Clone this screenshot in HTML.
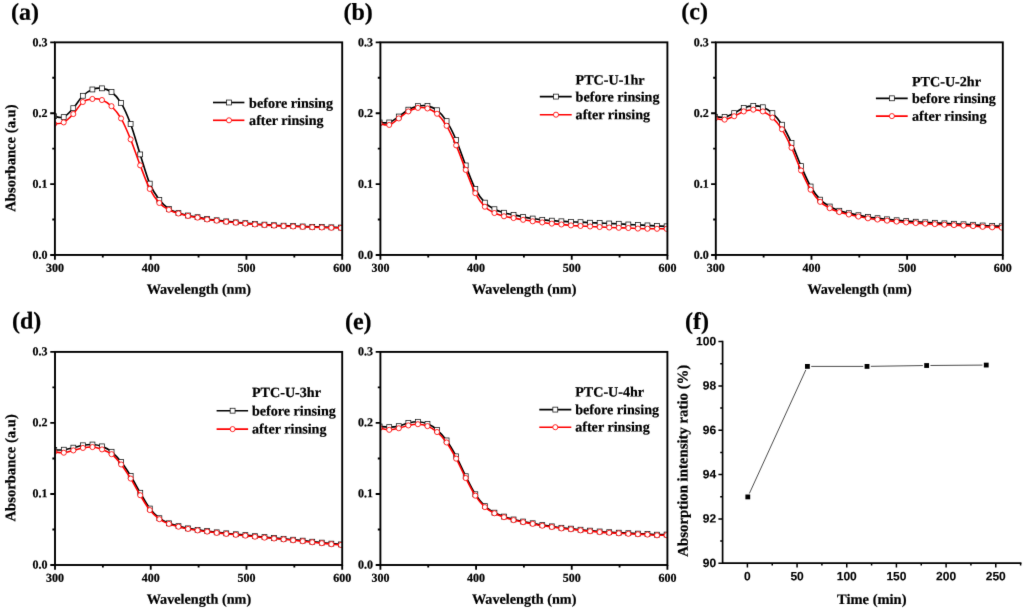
<!DOCTYPE html>
<html><head><meta charset="utf-8"><title>UV-vis absorbance before and after rinsing</title>
<style>html,body{margin:0;padding:0;background:#fff}svg{display:block}text{fill:#000;font-weight:bold;stroke:#000;stroke-width:0.22px}.se{font-family:"Liberation Serif",serif}.sa{font-family:"Liberation Sans",sans-serif;stroke-width:0.12px}</style>
</head><body>
<svg width="1024" height="611" viewBox="0 0 1024 611">
<defs><filter id="soft" filterUnits="userSpaceOnUse" x="0" y="0" width="1024" height="611" color-interpolation-filters="sRGB"><feConvolveMatrix order="3" kernelMatrix="0.0064 0.0672 0.0064 0.0672 0.7056 0.0672 0.0064 0.0672 0.0064" edgeMode="duplicate" preserveAlpha="false"/></filter></defs>
<g filter="url(#soft)">
<rect width="1024" height="611" fill="#fff"/>
<g id="pa">
<clipPath id="clipa"><rect x="54.7" y="42.35" width="287.7" height="212.6"/></clipPath>
<g clip-path="url(#clipa)">
<path d="M54.15 116.18C55.74 116.33 60.52 118.43 63.71 117.1C66.89 115.76 70.08 111.73 73.27 108.17C76.45 104.62 79.64 98.89 82.83 95.78C86.01 92.66 89.2 90.71 92.38 89.47C95.57 88.23 98.76 87.91 101.94 88.34C105.13 88.76 108.32 89.6 111.5 92.02C114.69 94.44 117.87 97.52 121.06 102.86C124.25 108.2 127.43 115.45 130.62 124.04C133.81 132.64 136.99 144.5 140.18 154.43C143.36 164.36 146.55 176.05 149.74 183.62C152.92 191.18 156.11 195.62 159.3 199.84C162.48 204.05 165.67 206.7 168.85 208.91C172.04 211.11 175.23 211.99 178.41 213.08C181.6 214.18 184.79 214.81 187.97 215.49C191.16 216.18 194.34 216.6 197.53 217.19C200.72 217.78 203.9 218.53 207.09 219.03C210.27 219.54 213.46 219.85 216.65 220.24C219.83 220.63 223.02 221.03 226.21 221.37C229.39 221.72 232.58 222 235.76 222.29C238.95 222.59 242.14 222.86 245.32 223.14C248.51 223.43 251.7 223.75 254.88 223.99C258.07 224.24 261.25 224.43 264.44 224.63C267.63 224.83 270.81 225.02 274 225.2C277.19 225.38 280.37 225.55 283.56 225.69C286.74 225.84 289.93 225.92 293.12 226.05C296.3 226.18 299.49 226.34 302.68 226.47C305.86 226.6 309.05 226.73 312.23 226.83C315.42 226.92 318.61 226.96 321.79 227.04C324.98 227.12 328.17 227.24 331.35 227.32C334.54 227.41 339.32 227.5 340.91 227.54" fill="none" stroke="#000" stroke-width="1.65"/>
<rect x="51.7" y="113.73" width="4.9" height="4.9" fill="#fff" stroke="#111" stroke-width="0.75"/><rect x="61.26" y="114.65" width="4.9" height="4.9" fill="#fff" stroke="#111" stroke-width="0.75"/><rect x="70.82" y="105.72" width="4.9" height="4.9" fill="#fff" stroke="#111" stroke-width="0.75"/><rect x="80.38" y="93.33" width="4.9" height="4.9" fill="#fff" stroke="#111" stroke-width="0.75"/><rect x="89.93" y="87.02" width="4.9" height="4.9" fill="#fff" stroke="#111" stroke-width="0.75"/><rect x="99.49" y="85.89" width="4.9" height="4.9" fill="#fff" stroke="#111" stroke-width="0.75"/><rect x="109.05" y="89.57" width="4.9" height="4.9" fill="#fff" stroke="#111" stroke-width="0.75"/><rect x="118.61" y="100.41" width="4.9" height="4.9" fill="#fff" stroke="#111" stroke-width="0.75"/><rect x="128.17" y="121.59" width="4.9" height="4.9" fill="#fff" stroke="#111" stroke-width="0.75"/><rect x="137.73" y="151.98" width="4.9" height="4.9" fill="#fff" stroke="#111" stroke-width="0.75"/><rect x="147.29" y="181.17" width="4.9" height="4.9" fill="#fff" stroke="#111" stroke-width="0.75"/><rect x="156.85" y="197.39" width="4.9" height="4.9" fill="#fff" stroke="#111" stroke-width="0.75"/><rect x="166.4" y="206.46" width="4.9" height="4.9" fill="#fff" stroke="#111" stroke-width="0.75"/><rect x="175.96" y="210.63" width="4.9" height="4.9" fill="#fff" stroke="#111" stroke-width="0.75"/><rect x="185.52" y="213.04" width="4.9" height="4.9" fill="#fff" stroke="#111" stroke-width="0.75"/><rect x="195.08" y="214.74" width="4.9" height="4.9" fill="#fff" stroke="#111" stroke-width="0.75"/><rect x="204.64" y="216.58" width="4.9" height="4.9" fill="#fff" stroke="#111" stroke-width="0.75"/><rect x="214.2" y="217.79" width="4.9" height="4.9" fill="#fff" stroke="#111" stroke-width="0.75"/><rect x="223.76" y="218.92" width="4.9" height="4.9" fill="#fff" stroke="#111" stroke-width="0.75"/><rect x="233.31" y="219.84" width="4.9" height="4.9" fill="#fff" stroke="#111" stroke-width="0.75"/><rect x="242.87" y="220.69" width="4.9" height="4.9" fill="#fff" stroke="#111" stroke-width="0.75"/><rect x="252.43" y="221.54" width="4.9" height="4.9" fill="#fff" stroke="#111" stroke-width="0.75"/><rect x="261.99" y="222.18" width="4.9" height="4.9" fill="#fff" stroke="#111" stroke-width="0.75"/><rect x="271.55" y="222.75" width="4.9" height="4.9" fill="#fff" stroke="#111" stroke-width="0.75"/><rect x="281.11" y="223.24" width="4.9" height="4.9" fill="#fff" stroke="#111" stroke-width="0.75"/><rect x="290.67" y="223.6" width="4.9" height="4.9" fill="#fff" stroke="#111" stroke-width="0.75"/><rect x="300.23" y="224.02" width="4.9" height="4.9" fill="#fff" stroke="#111" stroke-width="0.75"/><rect x="309.78" y="224.38" width="4.9" height="4.9" fill="#fff" stroke="#111" stroke-width="0.75"/><rect x="319.34" y="224.59" width="4.9" height="4.9" fill="#fff" stroke="#111" stroke-width="0.75"/><rect x="328.9" y="224.87" width="4.9" height="4.9" fill="#fff" stroke="#111" stroke-width="0.75"/><rect x="338.46" y="225.09" width="4.9" height="4.9" fill="#fff" stroke="#111" stroke-width="0.75"/>
<path d="M54.15 123.9C55.74 123.65 60.52 124.05 63.71 122.41C66.89 120.77 70.08 117.45 73.27 114.05C76.45 110.65 79.64 104.52 82.83 102.01C86.01 99.5 89.2 99.29 92.38 98.96C95.57 98.63 98.76 98.82 101.94 100.03C105.13 101.23 108.32 103.12 111.5 106.19C114.69 109.26 117.87 112.91 121.06 118.44C124.25 123.98 127.43 131.6 130.62 139.41C133.81 147.23 136.99 157.09 140.18 165.34C143.36 173.59 146.55 182.66 149.74 188.93C152.92 195.2 156.11 199.48 159.3 202.95C162.48 206.43 165.67 208 168.85 209.76C172.04 211.51 175.23 212.48 178.41 213.51C181.6 214.54 184.79 215.23 187.97 215.92C191.16 216.6 194.34 217.03 197.53 217.62C200.72 218.21 203.9 218.95 207.09 219.46C210.27 219.97 213.46 220.27 216.65 220.66C219.83 221.05 223.02 221.46 226.21 221.8C229.39 222.14 232.58 222.42 235.76 222.72C238.95 223.01 242.14 223.29 245.32 223.57C248.51 223.85 251.7 224.17 254.88 224.42C258.07 224.67 261.25 224.86 264.44 225.06C267.63 225.26 270.81 225.45 274 225.62C277.19 225.8 280.37 225.98 283.56 226.12C286.74 226.26 289.93 226.34 293.12 226.47C296.3 226.6 299.49 226.77 302.68 226.9C305.86 227.03 309.05 227.16 312.23 227.25C315.42 227.35 318.61 227.38 321.79 227.46C324.98 227.55 328.17 227.67 331.35 227.75C334.54 227.83 339.32 227.93 340.91 227.96" fill="none" stroke="#f00" stroke-width="1.5499999999999998"/>
<circle cx="54.15" cy="123.9" r="2.55" fill="#fff" stroke="#f00" stroke-width="0.85"/><circle cx="63.71" cy="122.41" r="2.55" fill="#fff" stroke="#f00" stroke-width="0.85"/><circle cx="73.27" cy="114.05" r="2.55" fill="#fff" stroke="#f00" stroke-width="0.85"/><circle cx="82.83" cy="102.01" r="2.55" fill="#fff" stroke="#f00" stroke-width="0.85"/><circle cx="92.38" cy="98.96" r="2.55" fill="#fff" stroke="#f00" stroke-width="0.85"/><circle cx="101.94" cy="100.03" r="2.55" fill="#fff" stroke="#f00" stroke-width="0.85"/><circle cx="111.5" cy="106.19" r="2.55" fill="#fff" stroke="#f00" stroke-width="0.85"/><circle cx="121.06" cy="118.44" r="2.55" fill="#fff" stroke="#f00" stroke-width="0.85"/><circle cx="130.62" cy="139.41" r="2.55" fill="#fff" stroke="#f00" stroke-width="0.85"/><circle cx="140.18" cy="165.34" r="2.55" fill="#fff" stroke="#f00" stroke-width="0.85"/><circle cx="149.74" cy="188.93" r="2.55" fill="#fff" stroke="#f00" stroke-width="0.85"/><circle cx="159.3" cy="202.95" r="2.55" fill="#fff" stroke="#f00" stroke-width="0.85"/><circle cx="168.85" cy="209.76" r="2.55" fill="#fff" stroke="#f00" stroke-width="0.85"/><circle cx="178.41" cy="213.51" r="2.55" fill="#fff" stroke="#f00" stroke-width="0.85"/><circle cx="187.97" cy="215.92" r="2.55" fill="#fff" stroke="#f00" stroke-width="0.85"/><circle cx="197.53" cy="217.62" r="2.55" fill="#fff" stroke="#f00" stroke-width="0.85"/><circle cx="207.09" cy="219.46" r="2.55" fill="#fff" stroke="#f00" stroke-width="0.85"/><circle cx="216.65" cy="220.66" r="2.55" fill="#fff" stroke="#f00" stroke-width="0.85"/><circle cx="226.21" cy="221.8" r="2.55" fill="#fff" stroke="#f00" stroke-width="0.85"/><circle cx="235.76" cy="222.72" r="2.55" fill="#fff" stroke="#f00" stroke-width="0.85"/><circle cx="245.32" cy="223.57" r="2.55" fill="#fff" stroke="#f00" stroke-width="0.85"/><circle cx="254.88" cy="224.42" r="2.55" fill="#fff" stroke="#f00" stroke-width="0.85"/><circle cx="264.44" cy="225.06" r="2.55" fill="#fff" stroke="#f00" stroke-width="0.85"/><circle cx="274" cy="225.62" r="2.55" fill="#fff" stroke="#f00" stroke-width="0.85"/><circle cx="283.56" cy="226.12" r="2.55" fill="#fff" stroke="#f00" stroke-width="0.85"/><circle cx="293.12" cy="226.47" r="2.55" fill="#fff" stroke="#f00" stroke-width="0.85"/><circle cx="302.68" cy="226.9" r="2.55" fill="#fff" stroke="#f00" stroke-width="0.85"/><circle cx="312.23" cy="227.25" r="2.55" fill="#fff" stroke="#f00" stroke-width="0.85"/><circle cx="321.79" cy="227.46" r="2.55" fill="#fff" stroke="#f00" stroke-width="0.85"/><circle cx="331.35" cy="227.75" r="2.55" fill="#fff" stroke="#f00" stroke-width="0.85"/><circle cx="340.91" cy="227.96" r="2.55" fill="#fff" stroke="#f00" stroke-width="0.85"/>
</g>
<rect x="54.9" y="42.35" width="287.3" height="212.6" fill="none" stroke="#000" stroke-width="1.9"/>
<path d="M54.9 254.95 v4.7M102.78 254.95 v2.6M150.67 254.95 v4.7M198.55 254.95 v2.6M246.43 254.95 v4.7M294.32 254.95 v2.6M342.2 254.95 v4.7M54.9 254.95 h-4.7M54.9 219.52 h-2.6M54.9 184.08 h-4.7M54.9 148.65 h-2.6M54.9 113.22 h-4.7M54.9 77.78 h-2.6M54.9 42.35 h-4.7" stroke="#000" stroke-width="1.85" fill="none"/>
<text x="54.9" y="271.75" font-size="12.0" text-anchor="middle" class="se" transform="rotate(0.03 54.9 271.75)">300</text>
<text x="150.67" y="271.75" font-size="12.0" text-anchor="middle" class="se" transform="rotate(0.03 150.67 271.75)">400</text>
<text x="246.43" y="271.75" font-size="12.0" text-anchor="middle" class="se" transform="rotate(0.03 246.43 271.75)">500</text>
<text x="342.2" y="271.75" font-size="12.0" text-anchor="middle" class="se" transform="rotate(0.03 342.2 271.75)">600</text>
<text x="47.5" y="258.75" font-size="12.0" text-anchor="end" class="se" transform="rotate(0.03 47.5 258.75)">0.0</text>
<text x="47.5" y="187.88" font-size="12.0" text-anchor="end" class="se" transform="rotate(0.03 47.5 187.88)">0.1</text>
<text x="47.5" y="117.02" font-size="12.0" text-anchor="end" class="se" transform="rotate(0.03 47.5 117.02)">0.2</text>
<text x="47.5" y="46.15" font-size="12.0" text-anchor="end" class="se" transform="rotate(0.03 47.5 46.15)">0.3</text>
<text x="198.85" y="293.75" font-size="14.2" text-anchor="middle" class="se" transform="rotate(0.03 198.85 293.75)">Wavelength (nm)</text>
<text transform="translate(15.2 158.05) rotate(-90.03)" font-size="14.649999999999999" text-anchor="middle" class="se">Absorbance (a.u)</text>
<text x="11" y="19.8" font-size="24" text-anchor="start" class="se" transform="rotate(0.03 11 19.8)">(a)</text>
<path d="M213 102.5H244.4" stroke="#000" stroke-width="1.65"/>
<rect x="226.55" y="100.05" width="4.9" height="4.9" fill="#fff" stroke="#111" stroke-width="0.75"/>
<text x="249.1" y="107.8" font-size="14.1" text-anchor="start" class="se" transform="rotate(0.03 249.1 107.8)">before rinsing</text>
<path d="M213 120.3H244.4" stroke="#f00" stroke-width="1.65"/>
<circle cx="229" cy="120.3" r="2.55" fill="#fff" stroke="#f00" stroke-width="0.85"/>
<text x="249.1" y="124.95" font-size="14.1" text-anchor="start" class="se" transform="rotate(0.03 249.1 124.95)">after rinsing</text>
</g>
<g id="pb">
<clipPath id="clipb"><rect x="380.2" y="42.35" width="287.4" height="212.6"/></clipPath>
<g clip-path="url(#clipb)">
<path d="M379.65 122.46C381.24 122.46 386.03 123.45 389.21 122.46C392.4 121.47 395.59 118.65 398.78 116.52C401.97 114.39 405.16 111.39 408.34 109.66C411.53 107.93 414.72 106.76 417.91 106.13C421.1 105.49 424.29 105.16 427.47 105.84C430.66 106.53 433.85 107.68 437.04 110.23C440.23 112.77 443.41 116.15 446.6 121.11C449.79 126.08 452.98 132.6 456.17 139.99C459.36 147.38 462.54 157.3 465.73 165.44C468.92 173.59 472.11 182.65 475.3 188.85C478.48 195.04 481.67 199.24 484.86 202.63C488.05 206.03 491.24 207.52 494.43 209.21C497.61 210.89 500.8 211.79 503.99 212.74C507.18 213.7 510.37 214.24 513.56 214.93C516.74 215.63 519.93 216.31 523.12 216.91C526.31 217.51 529.5 218.06 532.68 218.54C535.87 219.02 539.06 219.46 542.25 219.81C545.44 220.17 548.63 220.41 551.81 220.66C555 220.91 558.19 221.1 561.38 221.3C564.57 221.5 567.76 221.72 570.94 221.86C574.13 222 577.32 222 580.51 222.15C583.7 222.29 586.88 222.56 590.07 222.71C593.26 222.86 596.45 222.93 599.64 223.06C602.83 223.19 606.01 223.37 609.2 223.49C612.39 223.61 615.58 223.61 618.77 223.77C621.95 223.94 625.14 224.29 628.33 224.48C631.52 224.67 634.71 224.75 637.9 224.9C641.08 225.06 644.27 225.23 647.46 225.4C650.65 225.56 653.84 225.74 657.03 225.89C660.21 226.05 665 226.25 666.59 226.32" fill="none" stroke="#000" stroke-width="1.65"/>
<rect x="377.2" y="120.01" width="4.9" height="4.9" fill="#fff" stroke="#111" stroke-width="0.75"/><rect x="386.76" y="120.01" width="4.9" height="4.9" fill="#fff" stroke="#111" stroke-width="0.75"/><rect x="396.33" y="114.07" width="4.9" height="4.9" fill="#fff" stroke="#111" stroke-width="0.75"/><rect x="405.89" y="107.21" width="4.9" height="4.9" fill="#fff" stroke="#111" stroke-width="0.75"/><rect x="415.46" y="103.68" width="4.9" height="4.9" fill="#fff" stroke="#111" stroke-width="0.75"/><rect x="425.02" y="103.39" width="4.9" height="4.9" fill="#fff" stroke="#111" stroke-width="0.75"/><rect x="434.59" y="107.78" width="4.9" height="4.9" fill="#fff" stroke="#111" stroke-width="0.75"/><rect x="444.15" y="118.66" width="4.9" height="4.9" fill="#fff" stroke="#111" stroke-width="0.75"/><rect x="453.72" y="137.54" width="4.9" height="4.9" fill="#fff" stroke="#111" stroke-width="0.75"/><rect x="463.28" y="162.99" width="4.9" height="4.9" fill="#fff" stroke="#111" stroke-width="0.75"/><rect x="472.85" y="186.4" width="4.9" height="4.9" fill="#fff" stroke="#111" stroke-width="0.75"/><rect x="482.41" y="200.18" width="4.9" height="4.9" fill="#fff" stroke="#111" stroke-width="0.75"/><rect x="491.98" y="206.76" width="4.9" height="4.9" fill="#fff" stroke="#111" stroke-width="0.75"/><rect x="501.54" y="210.29" width="4.9" height="4.9" fill="#fff" stroke="#111" stroke-width="0.75"/><rect x="511.11" y="212.48" width="4.9" height="4.9" fill="#fff" stroke="#111" stroke-width="0.75"/><rect x="520.67" y="214.46" width="4.9" height="4.9" fill="#fff" stroke="#111" stroke-width="0.75"/><rect x="530.23" y="216.09" width="4.9" height="4.9" fill="#fff" stroke="#111" stroke-width="0.75"/><rect x="539.8" y="217.36" width="4.9" height="4.9" fill="#fff" stroke="#111" stroke-width="0.75"/><rect x="549.36" y="218.21" width="4.9" height="4.9" fill="#fff" stroke="#111" stroke-width="0.75"/><rect x="558.93" y="218.85" width="4.9" height="4.9" fill="#fff" stroke="#111" stroke-width="0.75"/><rect x="568.49" y="219.41" width="4.9" height="4.9" fill="#fff" stroke="#111" stroke-width="0.75"/><rect x="578.06" y="219.7" width="4.9" height="4.9" fill="#fff" stroke="#111" stroke-width="0.75"/><rect x="587.62" y="220.26" width="4.9" height="4.9" fill="#fff" stroke="#111" stroke-width="0.75"/><rect x="597.19" y="220.61" width="4.9" height="4.9" fill="#fff" stroke="#111" stroke-width="0.75"/><rect x="606.75" y="221.04" width="4.9" height="4.9" fill="#fff" stroke="#111" stroke-width="0.75"/><rect x="616.32" y="221.32" width="4.9" height="4.9" fill="#fff" stroke="#111" stroke-width="0.75"/><rect x="625.88" y="222.03" width="4.9" height="4.9" fill="#fff" stroke="#111" stroke-width="0.75"/><rect x="635.45" y="222.45" width="4.9" height="4.9" fill="#fff" stroke="#111" stroke-width="0.75"/><rect x="645.01" y="222.95" width="4.9" height="4.9" fill="#fff" stroke="#111" stroke-width="0.75"/><rect x="654.58" y="223.44" width="4.9" height="4.9" fill="#fff" stroke="#111" stroke-width="0.75"/><rect x="664.14" y="223.87" width="4.9" height="4.9" fill="#fff" stroke="#111" stroke-width="0.75"/>
<path d="M379.65 123.45C381.24 123.7 386.03 125.77 389.21 124.93C392.4 124.1 395.59 120.68 398.78 118.43C401.97 116.18 405.16 113.18 408.34 111.43C411.53 109.67 414.72 108.39 417.91 107.89C421.1 107.4 424.29 107.48 427.47 108.46C430.66 109.44 433.85 110.87 437.04 113.76C440.23 116.65 443.41 120.51 446.6 125.78C449.79 131.05 452.98 138.01 456.17 145.36C459.36 152.72 462.54 161.93 465.73 169.9C468.92 177.86 472.11 187.02 475.3 193.16C478.48 199.3 481.67 203.42 484.86 206.73C488.05 210.04 491.24 211.43 494.43 213.02C497.61 214.62 500.8 215.44 503.99 216.28C507.18 217.11 510.37 217.46 513.56 218.04C516.74 218.63 519.93 219.27 523.12 219.81C526.31 220.35 529.5 220.86 532.68 221.3C535.87 221.73 539.06 222.04 542.25 222.43C545.44 222.82 548.63 223.29 551.81 223.63C555 223.97 558.19 224.18 561.38 224.48C564.57 224.77 567.76 225.15 570.94 225.4C574.13 225.64 577.32 225.79 580.51 225.96C583.7 226.14 586.88 226.28 590.07 226.46C593.26 226.63 596.45 226.85 599.64 227.02C602.83 227.2 606.01 227.39 609.2 227.52C612.39 227.65 615.58 227.72 618.77 227.8C621.95 227.88 625.14 227.88 628.33 228.01C631.52 228.14 634.71 228.46 637.9 228.58C641.08 228.7 644.27 228.68 647.46 228.72C650.65 228.76 653.84 228.77 657.03 228.79C660.21 228.81 665 228.85 666.59 228.86" fill="none" stroke="#f00" stroke-width="1.5499999999999998"/>
<circle cx="379.65" cy="123.45" r="2.55" fill="#fff" stroke="#f00" stroke-width="0.85"/><circle cx="389.21" cy="124.93" r="2.55" fill="#fff" stroke="#f00" stroke-width="0.85"/><circle cx="398.78" cy="118.43" r="2.55" fill="#fff" stroke="#f00" stroke-width="0.85"/><circle cx="408.34" cy="111.43" r="2.55" fill="#fff" stroke="#f00" stroke-width="0.85"/><circle cx="417.91" cy="107.89" r="2.55" fill="#fff" stroke="#f00" stroke-width="0.85"/><circle cx="427.47" cy="108.46" r="2.55" fill="#fff" stroke="#f00" stroke-width="0.85"/><circle cx="437.04" cy="113.76" r="2.55" fill="#fff" stroke="#f00" stroke-width="0.85"/><circle cx="446.6" cy="125.78" r="2.55" fill="#fff" stroke="#f00" stroke-width="0.85"/><circle cx="456.17" cy="145.36" r="2.55" fill="#fff" stroke="#f00" stroke-width="0.85"/><circle cx="465.73" cy="169.9" r="2.55" fill="#fff" stroke="#f00" stroke-width="0.85"/><circle cx="475.3" cy="193.16" r="2.55" fill="#fff" stroke="#f00" stroke-width="0.85"/><circle cx="484.86" cy="206.73" r="2.55" fill="#fff" stroke="#f00" stroke-width="0.85"/><circle cx="494.43" cy="213.02" r="2.55" fill="#fff" stroke="#f00" stroke-width="0.85"/><circle cx="503.99" cy="216.28" r="2.55" fill="#fff" stroke="#f00" stroke-width="0.85"/><circle cx="513.56" cy="218.04" r="2.55" fill="#fff" stroke="#f00" stroke-width="0.85"/><circle cx="523.12" cy="219.81" r="2.55" fill="#fff" stroke="#f00" stroke-width="0.85"/><circle cx="532.68" cy="221.3" r="2.55" fill="#fff" stroke="#f00" stroke-width="0.85"/><circle cx="542.25" cy="222.43" r="2.55" fill="#fff" stroke="#f00" stroke-width="0.85"/><circle cx="551.81" cy="223.63" r="2.55" fill="#fff" stroke="#f00" stroke-width="0.85"/><circle cx="561.38" cy="224.48" r="2.55" fill="#fff" stroke="#f00" stroke-width="0.85"/><circle cx="570.94" cy="225.4" r="2.55" fill="#fff" stroke="#f00" stroke-width="0.85"/><circle cx="580.51" cy="225.96" r="2.55" fill="#fff" stroke="#f00" stroke-width="0.85"/><circle cx="590.07" cy="226.46" r="2.55" fill="#fff" stroke="#f00" stroke-width="0.85"/><circle cx="599.64" cy="227.02" r="2.55" fill="#fff" stroke="#f00" stroke-width="0.85"/><circle cx="609.2" cy="227.52" r="2.55" fill="#fff" stroke="#f00" stroke-width="0.85"/><circle cx="618.77" cy="227.8" r="2.55" fill="#fff" stroke="#f00" stroke-width="0.85"/><circle cx="628.33" cy="228.01" r="2.55" fill="#fff" stroke="#f00" stroke-width="0.85"/><circle cx="637.9" cy="228.58" r="2.55" fill="#fff" stroke="#f00" stroke-width="0.85"/><circle cx="647.46" cy="228.72" r="2.55" fill="#fff" stroke="#f00" stroke-width="0.85"/><circle cx="657.03" cy="228.79" r="2.55" fill="#fff" stroke="#f00" stroke-width="0.85"/><circle cx="666.59" cy="228.86" r="2.55" fill="#fff" stroke="#f00" stroke-width="0.85"/>
</g>
<rect x="380.4" y="42.35" width="287" height="212.6" fill="none" stroke="#000" stroke-width="1.9"/>
<path d="M380.4 254.95 v4.7M428.23 254.95 v2.6M476.07 254.95 v4.7M523.9 254.95 v2.6M571.73 254.95 v4.7M619.57 254.95 v2.6M667.4 254.95 v4.7M380.4 254.95 h-4.7M380.4 219.52 h-2.6M380.4 184.08 h-4.7M380.4 148.65 h-2.6M380.4 113.22 h-4.7M380.4 77.78 h-2.6M380.4 42.35 h-4.7" stroke="#000" stroke-width="1.85" fill="none"/>
<text x="380.4" y="271.75" font-size="12.0" text-anchor="middle" class="se" transform="rotate(0.03 380.4 271.75)">300</text>
<text x="476.07" y="271.75" font-size="12.0" text-anchor="middle" class="se" transform="rotate(0.03 476.07 271.75)">400</text>
<text x="571.73" y="271.75" font-size="12.0" text-anchor="middle" class="se" transform="rotate(0.03 571.73 271.75)">500</text>
<text x="667.4" y="271.75" font-size="12.0" text-anchor="middle" class="se" transform="rotate(0.03 667.4 271.75)">600</text>
<text x="373" y="258.75" font-size="12.0" text-anchor="end" class="se" transform="rotate(0.03 373 258.75)">0.0</text>
<text x="373" y="187.88" font-size="12.0" text-anchor="end" class="se" transform="rotate(0.03 373 187.88)">0.1</text>
<text x="373" y="117.02" font-size="12.0" text-anchor="end" class="se" transform="rotate(0.03 373 117.02)">0.2</text>
<text x="373" y="46.15" font-size="12.0" text-anchor="end" class="se" transform="rotate(0.03 373 46.15)">0.3</text>
<text x="524.2" y="293.75" font-size="14.2" text-anchor="middle" class="se" transform="rotate(0.03 524.2 293.75)">Wavelength (nm)</text>
<text x="343.5" y="19.8" font-size="24" text-anchor="start" class="se" transform="rotate(0.03 343.5 19.8)">(b)</text>
<text x="575.6" y="84.6" font-size="14.1" text-anchor="start" class="se" transform="rotate(0.03 575.6 84.6)">PTC-U-1hr</text>
<path d="M539.8 96.6H571.7" stroke="#000" stroke-width="1.65"/>
<rect x="553.55" y="94.15" width="4.9" height="4.9" fill="#fff" stroke="#111" stroke-width="0.75"/>
<text x="575.6" y="101.5" font-size="14.1" text-anchor="start" class="se" transform="rotate(0.03 575.6 101.5)">before rinsing</text>
<path d="M539.8 114.7H571.7" stroke="#f00" stroke-width="1.65"/>
<circle cx="556" cy="114.7" r="2.55" fill="#fff" stroke="#f00" stroke-width="0.85"/>
<text x="575.6" y="119.3" font-size="14.1" text-anchor="start" class="se" transform="rotate(0.03 575.6 119.3)">after rinsing</text>
</g>
<g id="pc">
<clipPath id="clipc"><rect x="715.6" y="42.35" width="287.4" height="212.6"/></clipPath>
<g clip-path="url(#clipc)">
<path d="M715.05 116.73C716.64 116.78 721.42 117.61 724.61 117.01C727.79 116.41 730.98 114.65 734.16 113.13C737.35 111.61 740.53 109.11 743.72 107.89C746.91 106.68 750.09 105.95 753.28 105.84C756.46 105.74 759.65 106.04 762.83 107.26C766.02 108.47 769.2 110.22 772.39 113.13C775.58 116.04 778.76 119.76 781.95 124.72C785.13 129.68 788.32 136 791.5 142.89C794.69 149.78 797.87 158.81 801.06 166.08C804.25 173.35 807.43 180.92 810.62 186.51C813.8 192.11 816.99 196.33 820.17 199.66C823.36 203 826.54 204.67 829.73 206.52C832.92 208.37 836.1 209.65 839.29 210.76C842.47 211.87 845.66 212.42 848.84 213.17C852.03 213.91 855.21 214.58 858.4 215.22C861.59 215.85 864.77 216.49 867.96 216.98C871.14 217.48 874.33 217.8 877.51 218.19C880.7 218.57 883.88 218.98 887.07 219.32C890.26 219.66 893.44 219.94 896.63 220.24C899.81 220.53 903 220.84 906.18 221.08C909.37 221.33 912.55 221.52 915.74 221.72C918.93 221.92 922.11 222.11 925.3 222.29C928.48 222.46 931.67 222.6 934.85 222.78C938.04 222.96 941.22 223.18 944.41 223.35C947.6 223.51 950.78 223.62 953.97 223.77C957.15 223.92 960.34 224.1 963.52 224.27C966.71 224.43 969.89 224.56 973.08 224.76C976.27 224.96 979.45 225.27 982.64 225.47C985.82 225.67 989.01 225.83 992.19 225.96C995.38 226.09 1000.16 226.2 1001.75 226.25" fill="none" stroke="#000" stroke-width="1.65"/>
<rect x="712.6" y="114.28" width="4.9" height="4.9" fill="#fff" stroke="#111" stroke-width="0.75"/><rect x="722.16" y="114.56" width="4.9" height="4.9" fill="#fff" stroke="#111" stroke-width="0.75"/><rect x="731.71" y="110.68" width="4.9" height="4.9" fill="#fff" stroke="#111" stroke-width="0.75"/><rect x="741.27" y="105.44" width="4.9" height="4.9" fill="#fff" stroke="#111" stroke-width="0.75"/><rect x="750.83" y="103.39" width="4.9" height="4.9" fill="#fff" stroke="#111" stroke-width="0.75"/><rect x="760.38" y="104.81" width="4.9" height="4.9" fill="#fff" stroke="#111" stroke-width="0.75"/><rect x="769.94" y="110.68" width="4.9" height="4.9" fill="#fff" stroke="#111" stroke-width="0.75"/><rect x="779.5" y="122.27" width="4.9" height="4.9" fill="#fff" stroke="#111" stroke-width="0.75"/><rect x="789.05" y="140.44" width="4.9" height="4.9" fill="#fff" stroke="#111" stroke-width="0.75"/><rect x="798.61" y="163.63" width="4.9" height="4.9" fill="#fff" stroke="#111" stroke-width="0.75"/><rect x="808.17" y="184.06" width="4.9" height="4.9" fill="#fff" stroke="#111" stroke-width="0.75"/><rect x="817.72" y="197.21" width="4.9" height="4.9" fill="#fff" stroke="#111" stroke-width="0.75"/><rect x="827.28" y="204.07" width="4.9" height="4.9" fill="#fff" stroke="#111" stroke-width="0.75"/><rect x="836.84" y="208.31" width="4.9" height="4.9" fill="#fff" stroke="#111" stroke-width="0.75"/><rect x="846.39" y="210.72" width="4.9" height="4.9" fill="#fff" stroke="#111" stroke-width="0.75"/><rect x="855.95" y="212.77" width="4.9" height="4.9" fill="#fff" stroke="#111" stroke-width="0.75"/><rect x="865.51" y="214.53" width="4.9" height="4.9" fill="#fff" stroke="#111" stroke-width="0.75"/><rect x="875.06" y="215.74" width="4.9" height="4.9" fill="#fff" stroke="#111" stroke-width="0.75"/><rect x="884.62" y="216.87" width="4.9" height="4.9" fill="#fff" stroke="#111" stroke-width="0.75"/><rect x="894.18" y="217.79" width="4.9" height="4.9" fill="#fff" stroke="#111" stroke-width="0.75"/><rect x="903.73" y="218.63" width="4.9" height="4.9" fill="#fff" stroke="#111" stroke-width="0.75"/><rect x="913.29" y="219.27" width="4.9" height="4.9" fill="#fff" stroke="#111" stroke-width="0.75"/><rect x="922.85" y="219.84" width="4.9" height="4.9" fill="#fff" stroke="#111" stroke-width="0.75"/><rect x="932.4" y="220.33" width="4.9" height="4.9" fill="#fff" stroke="#111" stroke-width="0.75"/><rect x="941.96" y="220.9" width="4.9" height="4.9" fill="#fff" stroke="#111" stroke-width="0.75"/><rect x="951.52" y="221.32" width="4.9" height="4.9" fill="#fff" stroke="#111" stroke-width="0.75"/><rect x="961.07" y="221.82" width="4.9" height="4.9" fill="#fff" stroke="#111" stroke-width="0.75"/><rect x="970.63" y="222.31" width="4.9" height="4.9" fill="#fff" stroke="#111" stroke-width="0.75"/><rect x="980.19" y="223.02" width="4.9" height="4.9" fill="#fff" stroke="#111" stroke-width="0.75"/><rect x="989.74" y="223.51" width="4.9" height="4.9" fill="#fff" stroke="#111" stroke-width="0.75"/><rect x="999.3" y="223.8" width="4.9" height="4.9" fill="#fff" stroke="#111" stroke-width="0.75"/>
<path d="M715.05 118.43C716.64 118.63 721.42 120 724.61 119.63C727.79 119.26 730.98 117.6 734.16 116.24C737.35 114.87 740.53 112.52 743.72 111.43C746.91 110.33 750.09 109.66 753.28 109.66C756.46 109.66 759.65 110.11 762.83 111.43C766.02 112.75 769.2 114.6 772.39 117.58C775.58 120.56 778.76 124.28 781.95 129.32C785.13 134.35 788.32 140.91 791.5 147.77C794.69 154.63 797.87 163.48 801.06 170.46C804.25 177.45 807.43 184.46 810.62 189.69C813.8 194.93 816.99 198.77 820.17 201.85C823.36 204.94 826.54 206.51 829.73 208.22C832.92 209.93 836.1 211.06 839.29 212.11C842.47 213.15 845.66 213.77 848.84 214.51C852.03 215.25 855.21 215.92 858.4 216.56C861.59 217.2 864.77 217.83 867.96 218.33C871.14 218.82 874.33 219.14 877.51 219.53C880.7 219.92 883.88 220.32 887.07 220.66C890.26 221 893.44 221.28 896.63 221.58C899.81 221.87 903 222.18 906.18 222.43C909.37 222.68 912.55 222.86 915.74 223.06C918.93 223.26 922.11 223.45 925.3 223.63C928.48 223.81 931.67 223.95 934.85 224.12C938.04 224.3 941.22 224.53 944.41 224.69C947.6 224.86 950.78 224.96 953.97 225.11C957.15 225.27 960.34 225.44 963.52 225.61C966.71 225.77 969.89 225.9 973.08 226.1C976.27 226.3 979.45 226.61 982.64 226.81C985.82 227.01 989.01 227.18 992.19 227.31C995.38 227.44 1000.16 227.54 1001.75 227.59" fill="none" stroke="#f00" stroke-width="1.5499999999999998"/>
<circle cx="715.05" cy="118.43" r="2.55" fill="#fff" stroke="#f00" stroke-width="0.85"/><circle cx="724.61" cy="119.63" r="2.55" fill="#fff" stroke="#f00" stroke-width="0.85"/><circle cx="734.16" cy="116.24" r="2.55" fill="#fff" stroke="#f00" stroke-width="0.85"/><circle cx="743.72" cy="111.43" r="2.55" fill="#fff" stroke="#f00" stroke-width="0.85"/><circle cx="753.28" cy="109.66" r="2.55" fill="#fff" stroke="#f00" stroke-width="0.85"/><circle cx="762.83" cy="111.43" r="2.55" fill="#fff" stroke="#f00" stroke-width="0.85"/><circle cx="772.39" cy="117.58" r="2.55" fill="#fff" stroke="#f00" stroke-width="0.85"/><circle cx="781.95" cy="129.32" r="2.55" fill="#fff" stroke="#f00" stroke-width="0.85"/><circle cx="791.5" cy="147.77" r="2.55" fill="#fff" stroke="#f00" stroke-width="0.85"/><circle cx="801.06" cy="170.46" r="2.55" fill="#fff" stroke="#f00" stroke-width="0.85"/><circle cx="810.62" cy="189.69" r="2.55" fill="#fff" stroke="#f00" stroke-width="0.85"/><circle cx="820.17" cy="201.85" r="2.55" fill="#fff" stroke="#f00" stroke-width="0.85"/><circle cx="829.73" cy="208.22" r="2.55" fill="#fff" stroke="#f00" stroke-width="0.85"/><circle cx="839.29" cy="212.11" r="2.55" fill="#fff" stroke="#f00" stroke-width="0.85"/><circle cx="848.84" cy="214.51" r="2.55" fill="#fff" stroke="#f00" stroke-width="0.85"/><circle cx="858.4" cy="216.56" r="2.55" fill="#fff" stroke="#f00" stroke-width="0.85"/><circle cx="867.96" cy="218.33" r="2.55" fill="#fff" stroke="#f00" stroke-width="0.85"/><circle cx="877.51" cy="219.53" r="2.55" fill="#fff" stroke="#f00" stroke-width="0.85"/><circle cx="887.07" cy="220.66" r="2.55" fill="#fff" stroke="#f00" stroke-width="0.85"/><circle cx="896.63" cy="221.58" r="2.55" fill="#fff" stroke="#f00" stroke-width="0.85"/><circle cx="906.18" cy="222.43" r="2.55" fill="#fff" stroke="#f00" stroke-width="0.85"/><circle cx="915.74" cy="223.06" r="2.55" fill="#fff" stroke="#f00" stroke-width="0.85"/><circle cx="925.3" cy="223.63" r="2.55" fill="#fff" stroke="#f00" stroke-width="0.85"/><circle cx="934.85" cy="224.12" r="2.55" fill="#fff" stroke="#f00" stroke-width="0.85"/><circle cx="944.41" cy="224.69" r="2.55" fill="#fff" stroke="#f00" stroke-width="0.85"/><circle cx="953.97" cy="225.11" r="2.55" fill="#fff" stroke="#f00" stroke-width="0.85"/><circle cx="963.52" cy="225.61" r="2.55" fill="#fff" stroke="#f00" stroke-width="0.85"/><circle cx="973.08" cy="226.1" r="2.55" fill="#fff" stroke="#f00" stroke-width="0.85"/><circle cx="982.64" cy="226.81" r="2.55" fill="#fff" stroke="#f00" stroke-width="0.85"/><circle cx="992.19" cy="227.31" r="2.55" fill="#fff" stroke="#f00" stroke-width="0.85"/><circle cx="1001.75" cy="227.59" r="2.55" fill="#fff" stroke="#f00" stroke-width="0.85"/>
</g>
<rect x="715.8" y="42.35" width="287" height="212.6" fill="none" stroke="#000" stroke-width="1.9"/>
<path d="M715.8 254.95 v4.7M763.63 254.95 v2.6M811.47 254.95 v4.7M859.3 254.95 v2.6M907.13 254.95 v4.7M954.97 254.95 v2.6M1002.8 254.95 v4.7M715.8 254.95 h-4.7M715.8 219.52 h-2.6M715.8 184.08 h-4.7M715.8 148.65 h-2.6M715.8 113.22 h-4.7M715.8 77.78 h-2.6M715.8 42.35 h-4.7" stroke="#000" stroke-width="1.85" fill="none"/>
<text x="715.8" y="271.75" font-size="12.0" text-anchor="middle" class="se" transform="rotate(0.03 715.8 271.75)">300</text>
<text x="811.47" y="271.75" font-size="12.0" text-anchor="middle" class="se" transform="rotate(0.03 811.47 271.75)">400</text>
<text x="907.13" y="271.75" font-size="12.0" text-anchor="middle" class="se" transform="rotate(0.03 907.13 271.75)">500</text>
<text x="1002.8" y="271.75" font-size="12.0" text-anchor="middle" class="se" transform="rotate(0.03 1002.8 271.75)">600</text>
<text x="708.8" y="258.75" font-size="12.0" text-anchor="end" class="se" transform="rotate(0.03 708.8 258.75)">0.0</text>
<text x="708.8" y="187.88" font-size="12.0" text-anchor="end" class="se" transform="rotate(0.03 708.8 187.88)">0.1</text>
<text x="708.8" y="117.02" font-size="12.0" text-anchor="end" class="se" transform="rotate(0.03 708.8 117.02)">0.2</text>
<text x="708.8" y="46.15" font-size="12.0" text-anchor="end" class="se" transform="rotate(0.03 708.8 46.15)">0.3</text>
<text x="859.6" y="293.75" font-size="14.2" text-anchor="middle" class="se" transform="rotate(0.03 859.6 293.75)">Wavelength (nm)</text>
<text x="681.3" y="19.3" font-size="24" text-anchor="start" class="se" transform="rotate(0.03 681.3 19.3)">(c)</text>
<text x="912" y="86.3" font-size="14.1" text-anchor="start" class="se" transform="rotate(0.03 912 86.3)">PTC-U-2hr</text>
<path d="M875.9 98.3H907.7" stroke="#000" stroke-width="1.65"/>
<rect x="889.45" y="95.85" width="4.9" height="4.9" fill="#fff" stroke="#111" stroke-width="0.75"/>
<text x="912" y="102.9" font-size="14.1" text-anchor="start" class="se" transform="rotate(0.03 912 102.9)">before rinsing</text>
<path d="M875.9 116.1H907.7" stroke="#f00" stroke-width="1.65"/>
<circle cx="891.9" cy="116.1" r="2.55" fill="#fff" stroke="#f00" stroke-width="0.85"/>
<text x="912" y="120.8" font-size="14.1" text-anchor="start" class="se" transform="rotate(0.03 912 120.8)">after rinsing</text>
</g>
<g id="pd">
<clipPath id="clipd"><rect x="54.8" y="351.9" width="287.6" height="213.1"/></clipPath>
<g clip-path="url(#clipd)">
<path d="M54.25 450C55.84 449.95 60.62 450.1 63.81 449.71C66.99 449.32 70.18 448.39 73.36 447.65C76.55 446.92 79.73 445.83 82.92 445.31C86.1 444.79 89.29 444.35 92.47 444.53C95.66 444.71 98.84 445.17 102.03 446.37C105.21 447.58 108.4 449.19 111.58 451.77C114.77 454.35 117.95 457.82 121.14 461.86C124.32 465.9 127.51 470.85 130.69 476C133.88 481.15 137.06 487.34 140.25 492.76C143.43 498.18 146.62 504.29 149.8 508.53C152.99 512.77 156.17 515.73 159.36 518.19C162.54 520.65 165.73 521.98 168.91 523.3C172.1 524.63 175.28 525.3 178.47 526.14C181.65 526.99 184.84 527.73 188.02 528.35C191.21 528.96 194.39 529.39 197.58 529.84C200.77 530.29 203.95 530.63 207.14 531.05C210.32 531.46 213.51 531.95 216.69 532.32C219.88 532.7 223.06 533 226.25 533.32C229.43 533.64 232.62 533.95 235.8 534.24C238.99 534.54 242.17 534.78 245.36 535.09C248.54 535.41 251.73 535.83 254.91 536.16C258.1 536.49 261.28 536.79 264.47 537.08C267.65 537.38 270.84 537.65 274.02 537.94C277.21 538.22 280.39 538.49 283.58 538.79C286.76 539.08 289.95 539.4 293.13 539.71C296.32 540.02 299.5 540.3 302.69 540.64C305.87 540.97 309.06 541.37 312.24 541.7C315.43 542.03 318.61 542.3 321.8 542.62C324.98 542.94 328.17 543.32 331.35 543.62C334.54 543.91 339.32 544.27 340.91 544.4" fill="none" stroke="#000" stroke-width="1.65"/>
<rect x="51.8" y="447.55" width="4.9" height="4.9" fill="#fff" stroke="#111" stroke-width="0.75"/><rect x="61.36" y="447.26" width="4.9" height="4.9" fill="#fff" stroke="#111" stroke-width="0.75"/><rect x="70.91" y="445.2" width="4.9" height="4.9" fill="#fff" stroke="#111" stroke-width="0.75"/><rect x="80.47" y="442.86" width="4.9" height="4.9" fill="#fff" stroke="#111" stroke-width="0.75"/><rect x="90.02" y="442.08" width="4.9" height="4.9" fill="#fff" stroke="#111" stroke-width="0.75"/><rect x="99.58" y="443.92" width="4.9" height="4.9" fill="#fff" stroke="#111" stroke-width="0.75"/><rect x="109.13" y="449.32" width="4.9" height="4.9" fill="#fff" stroke="#111" stroke-width="0.75"/><rect x="118.69" y="459.41" width="4.9" height="4.9" fill="#fff" stroke="#111" stroke-width="0.75"/><rect x="128.24" y="473.55" width="4.9" height="4.9" fill="#fff" stroke="#111" stroke-width="0.75"/><rect x="137.8" y="490.31" width="4.9" height="4.9" fill="#fff" stroke="#111" stroke-width="0.75"/><rect x="147.35" y="506.08" width="4.9" height="4.9" fill="#fff" stroke="#111" stroke-width="0.75"/><rect x="156.91" y="515.74" width="4.9" height="4.9" fill="#fff" stroke="#111" stroke-width="0.75"/><rect x="166.46" y="520.85" width="4.9" height="4.9" fill="#fff" stroke="#111" stroke-width="0.75"/><rect x="176.02" y="523.69" width="4.9" height="4.9" fill="#fff" stroke="#111" stroke-width="0.75"/><rect x="185.57" y="525.9" width="4.9" height="4.9" fill="#fff" stroke="#111" stroke-width="0.75"/><rect x="195.13" y="527.39" width="4.9" height="4.9" fill="#fff" stroke="#111" stroke-width="0.75"/><rect x="204.69" y="528.6" width="4.9" height="4.9" fill="#fff" stroke="#111" stroke-width="0.75"/><rect x="214.24" y="529.87" width="4.9" height="4.9" fill="#fff" stroke="#111" stroke-width="0.75"/><rect x="223.8" y="530.87" width="4.9" height="4.9" fill="#fff" stroke="#111" stroke-width="0.75"/><rect x="233.35" y="531.79" width="4.9" height="4.9" fill="#fff" stroke="#111" stroke-width="0.75"/><rect x="242.91" y="532.64" width="4.9" height="4.9" fill="#fff" stroke="#111" stroke-width="0.75"/><rect x="252.46" y="533.71" width="4.9" height="4.9" fill="#fff" stroke="#111" stroke-width="0.75"/><rect x="262.02" y="534.63" width="4.9" height="4.9" fill="#fff" stroke="#111" stroke-width="0.75"/><rect x="271.57" y="535.49" width="4.9" height="4.9" fill="#fff" stroke="#111" stroke-width="0.75"/><rect x="281.13" y="536.34" width="4.9" height="4.9" fill="#fff" stroke="#111" stroke-width="0.75"/><rect x="290.68" y="537.26" width="4.9" height="4.9" fill="#fff" stroke="#111" stroke-width="0.75"/><rect x="300.24" y="538.19" width="4.9" height="4.9" fill="#fff" stroke="#111" stroke-width="0.75"/><rect x="309.79" y="539.25" width="4.9" height="4.9" fill="#fff" stroke="#111" stroke-width="0.75"/><rect x="319.35" y="540.17" width="4.9" height="4.9" fill="#fff" stroke="#111" stroke-width="0.75"/><rect x="328.9" y="541.17" width="4.9" height="4.9" fill="#fff" stroke="#111" stroke-width="0.75"/><rect x="338.46" y="541.95" width="4.9" height="4.9" fill="#fff" stroke="#111" stroke-width="0.75"/>
<path d="M54.25 451.91C55.84 452.05 60.62 452.94 63.81 452.7C66.99 452.45 70.18 451.22 73.36 450.42C76.55 449.63 79.73 448.49 82.92 447.94C86.1 447.38 89.29 446.84 92.47 447.08C95.66 447.33 98.84 448.24 102.03 449.43C105.21 450.61 108.4 451.68 111.58 454.19C114.77 456.7 117.95 460.43 121.14 464.49C124.32 468.55 127.51 473.43 130.69 478.55C133.88 483.68 137.06 489.99 140.25 495.25C143.43 500.5 146.62 506.1 149.8 510.09C152.99 514.08 156.17 516.89 159.36 519.18C162.54 521.48 165.73 522.62 168.91 523.87C172.1 525.13 175.28 525.87 178.47 526.71C181.65 527.55 184.84 528.3 188.02 528.92C191.21 529.53 194.39 529.96 197.58 530.41C200.77 530.86 203.95 531.2 207.14 531.61C210.32 532.03 213.51 532.51 216.69 532.89C219.88 533.27 223.06 533.57 226.25 533.89C229.43 534.21 232.62 534.51 235.8 534.81C238.99 535.11 242.17 535.34 245.36 535.66C248.54 535.98 251.73 536.4 254.91 536.73C258.1 537.06 261.28 537.36 264.47 537.65C267.65 537.95 270.84 538.22 274.02 538.5C277.21 538.79 280.39 539.06 283.58 539.36C286.76 539.65 289.95 539.97 293.13 540.28C296.32 540.59 299.5 540.87 302.69 541.2C305.87 541.54 309.06 541.94 312.24 542.27C315.43 542.6 318.61 542.87 321.8 543.19C324.98 543.51 328.17 543.89 331.35 544.19C334.54 544.48 339.32 544.84 340.91 544.97" fill="none" stroke="#f00" stroke-width="1.5499999999999998"/>
<circle cx="54.25" cy="451.91" r="2.55" fill="#fff" stroke="#f00" stroke-width="0.85"/><circle cx="63.81" cy="452.7" r="2.55" fill="#fff" stroke="#f00" stroke-width="0.85"/><circle cx="73.36" cy="450.42" r="2.55" fill="#fff" stroke="#f00" stroke-width="0.85"/><circle cx="82.92" cy="447.94" r="2.55" fill="#fff" stroke="#f00" stroke-width="0.85"/><circle cx="92.47" cy="447.08" r="2.55" fill="#fff" stroke="#f00" stroke-width="0.85"/><circle cx="102.03" cy="449.43" r="2.55" fill="#fff" stroke="#f00" stroke-width="0.85"/><circle cx="111.58" cy="454.19" r="2.55" fill="#fff" stroke="#f00" stroke-width="0.85"/><circle cx="121.14" cy="464.49" r="2.55" fill="#fff" stroke="#f00" stroke-width="0.85"/><circle cx="130.69" cy="478.55" r="2.55" fill="#fff" stroke="#f00" stroke-width="0.85"/><circle cx="140.25" cy="495.25" r="2.55" fill="#fff" stroke="#f00" stroke-width="0.85"/><circle cx="149.8" cy="510.09" r="2.55" fill="#fff" stroke="#f00" stroke-width="0.85"/><circle cx="159.36" cy="519.18" r="2.55" fill="#fff" stroke="#f00" stroke-width="0.85"/><circle cx="168.91" cy="523.87" r="2.55" fill="#fff" stroke="#f00" stroke-width="0.85"/><circle cx="178.47" cy="526.71" r="2.55" fill="#fff" stroke="#f00" stroke-width="0.85"/><circle cx="188.02" cy="528.92" r="2.55" fill="#fff" stroke="#f00" stroke-width="0.85"/><circle cx="197.58" cy="530.41" r="2.55" fill="#fff" stroke="#f00" stroke-width="0.85"/><circle cx="207.14" cy="531.61" r="2.55" fill="#fff" stroke="#f00" stroke-width="0.85"/><circle cx="216.69" cy="532.89" r="2.55" fill="#fff" stroke="#f00" stroke-width="0.85"/><circle cx="226.25" cy="533.89" r="2.55" fill="#fff" stroke="#f00" stroke-width="0.85"/><circle cx="235.8" cy="534.81" r="2.55" fill="#fff" stroke="#f00" stroke-width="0.85"/><circle cx="245.36" cy="535.66" r="2.55" fill="#fff" stroke="#f00" stroke-width="0.85"/><circle cx="254.91" cy="536.73" r="2.55" fill="#fff" stroke="#f00" stroke-width="0.85"/><circle cx="264.47" cy="537.65" r="2.55" fill="#fff" stroke="#f00" stroke-width="0.85"/><circle cx="274.02" cy="538.5" r="2.55" fill="#fff" stroke="#f00" stroke-width="0.85"/><circle cx="283.58" cy="539.36" r="2.55" fill="#fff" stroke="#f00" stroke-width="0.85"/><circle cx="293.13" cy="540.28" r="2.55" fill="#fff" stroke="#f00" stroke-width="0.85"/><circle cx="302.69" cy="541.2" r="2.55" fill="#fff" stroke="#f00" stroke-width="0.85"/><circle cx="312.24" cy="542.27" r="2.55" fill="#fff" stroke="#f00" stroke-width="0.85"/><circle cx="321.8" cy="543.19" r="2.55" fill="#fff" stroke="#f00" stroke-width="0.85"/><circle cx="331.35" cy="544.19" r="2.55" fill="#fff" stroke="#f00" stroke-width="0.85"/><circle cx="340.91" cy="544.97" r="2.55" fill="#fff" stroke="#f00" stroke-width="0.85"/>
</g>
<rect x="55" y="351.9" width="287.2" height="213.1" fill="none" stroke="#000" stroke-width="1.9"/>
<path d="M55 565 v4.7M102.87 565 v2.6M150.73 565 v4.7M198.6 565 v2.6M246.47 565 v4.7M294.33 565 v2.6M342.2 565 v4.7M55 565 h-4.7M55 529.48 h-2.6M55 493.97 h-4.7M55 458.45 h-2.6M55 422.93 h-4.7M55 387.42 h-2.6M55 351.9 h-4.7" stroke="#000" stroke-width="1.85" fill="none"/>
<text x="55" y="581.8" font-size="12.0" text-anchor="middle" class="se" transform="rotate(0.03 55 581.8)">300</text>
<text x="150.73" y="581.8" font-size="12.0" text-anchor="middle" class="se" transform="rotate(0.03 150.73 581.8)">400</text>
<text x="246.47" y="581.8" font-size="12.0" text-anchor="middle" class="se" transform="rotate(0.03 246.47 581.8)">500</text>
<text x="342.2" y="581.8" font-size="12.0" text-anchor="middle" class="se" transform="rotate(0.03 342.2 581.8)">600</text>
<text x="47.6" y="568.4" font-size="12.0" text-anchor="end" class="se" transform="rotate(0.03 47.6 568.4)">0.0</text>
<text x="47.6" y="497.37" font-size="12.0" text-anchor="end" class="se" transform="rotate(0.03 47.6 497.37)">0.1</text>
<text x="47.6" y="426.33" font-size="12.0" text-anchor="end" class="se" transform="rotate(0.03 47.6 426.33)">0.2</text>
<text x="47.6" y="355.3" font-size="12.0" text-anchor="end" class="se" transform="rotate(0.03 47.6 355.3)">0.3</text>
<text x="198.9" y="603.8" font-size="14.2" text-anchor="middle" class="se" transform="rotate(0.03 198.9 603.8)">Wavelength (nm)</text>
<text transform="translate(15.2 467.85) rotate(-90.03)" font-size="14.649999999999999" text-anchor="middle" class="se">Absorbance (a.u)</text>
<text x="12" y="328.6" font-size="24" text-anchor="start" class="se" transform="rotate(0.03 12 328.6)">(d)</text>
<text x="252" y="397" font-size="14.1" text-anchor="start" class="se" transform="rotate(0.03 252 397)">PTC-U-3hr</text>
<path d="M216.6 410.7H248.1" stroke="#000" stroke-width="1.65"/>
<rect x="230.15" y="408.25" width="4.9" height="4.9" fill="#fff" stroke="#111" stroke-width="0.75"/>
<text x="252" y="415.5" font-size="14.1" text-anchor="start" class="se" transform="rotate(0.03 252 415.5)">before rinsing</text>
<path d="M216.6 429.1H248.1" stroke="#f00" stroke-width="1.65"/>
<circle cx="232.6" cy="429.1" r="2.55" fill="#fff" stroke="#f00" stroke-width="0.85"/>
<text x="252" y="433.6" font-size="14.1" text-anchor="start" class="se" transform="rotate(0.03 252 433.6)">after rinsing</text>
</g>
<g id="pe">
<clipPath id="clipe"><rect x="380.2" y="351.9" width="287.4" height="213.1"/></clipPath>
<g clip-path="url(#clipe)">
<path d="M379.65 426.48C381.24 426.59 386.03 427.18 389.21 427.12C392.4 427.07 395.59 426.82 398.78 426.13C401.97 425.44 405.16 423.73 408.34 423C411.53 422.28 414.72 421.65 417.91 421.8C421.1 421.94 424.29 422.52 427.47 423.86C430.66 425.19 433.85 427.07 437.04 429.82C440.23 432.58 443.41 435.99 446.6 440.41C449.79 444.82 452.98 450.35 456.17 456.32C459.36 462.29 462.54 469.89 465.73 476.21C468.92 482.53 472.11 489.27 475.3 494.25C478.48 499.23 481.67 503.05 484.86 506.11C488.05 509.18 491.24 510.91 494.43 512.65C497.61 514.39 500.8 515.42 503.99 516.56C507.18 517.69 510.37 518.64 513.56 519.47C516.74 520.3 519.93 520.9 523.12 521.53C526.31 522.16 529.5 522.64 532.68 523.23C535.87 523.82 539.06 524.56 542.25 525.08C545.44 525.6 548.63 525.91 551.81 526.36C555 526.81 558.19 527.4 561.38 527.78C564.57 528.16 567.76 528.31 570.94 528.63C574.13 528.95 577.32 529.36 580.51 529.7C583.7 530.03 586.88 530.32 590.07 530.62C593.26 530.92 596.45 531.21 599.64 531.47C602.83 531.73 606.01 531.98 609.2 532.18C612.39 532.38 615.58 532.51 618.77 532.68C621.95 532.85 625.14 533.02 628.33 533.18C631.52 533.33 634.71 533.47 637.9 533.6C641.08 533.73 644.27 533.78 647.46 533.96C650.65 534.14 653.84 534.57 657.03 534.67C660.21 534.76 665 534.55 666.59 534.53" fill="none" stroke="#000" stroke-width="1.65"/>
<rect x="377.2" y="424.03" width="4.9" height="4.9" fill="#fff" stroke="#111" stroke-width="0.75"/><rect x="386.76" y="424.67" width="4.9" height="4.9" fill="#fff" stroke="#111" stroke-width="0.75"/><rect x="396.33" y="423.68" width="4.9" height="4.9" fill="#fff" stroke="#111" stroke-width="0.75"/><rect x="405.89" y="420.55" width="4.9" height="4.9" fill="#fff" stroke="#111" stroke-width="0.75"/><rect x="415.46" y="419.35" width="4.9" height="4.9" fill="#fff" stroke="#111" stroke-width="0.75"/><rect x="425.02" y="421.41" width="4.9" height="4.9" fill="#fff" stroke="#111" stroke-width="0.75"/><rect x="434.59" y="427.37" width="4.9" height="4.9" fill="#fff" stroke="#111" stroke-width="0.75"/><rect x="444.15" y="437.96" width="4.9" height="4.9" fill="#fff" stroke="#111" stroke-width="0.75"/><rect x="453.72" y="453.87" width="4.9" height="4.9" fill="#fff" stroke="#111" stroke-width="0.75"/><rect x="463.28" y="473.76" width="4.9" height="4.9" fill="#fff" stroke="#111" stroke-width="0.75"/><rect x="472.85" y="491.8" width="4.9" height="4.9" fill="#fff" stroke="#111" stroke-width="0.75"/><rect x="482.41" y="503.66" width="4.9" height="4.9" fill="#fff" stroke="#111" stroke-width="0.75"/><rect x="491.98" y="510.2" width="4.9" height="4.9" fill="#fff" stroke="#111" stroke-width="0.75"/><rect x="501.54" y="514.11" width="4.9" height="4.9" fill="#fff" stroke="#111" stroke-width="0.75"/><rect x="511.11" y="517.02" width="4.9" height="4.9" fill="#fff" stroke="#111" stroke-width="0.75"/><rect x="520.67" y="519.08" width="4.9" height="4.9" fill="#fff" stroke="#111" stroke-width="0.75"/><rect x="530.23" y="520.78" width="4.9" height="4.9" fill="#fff" stroke="#111" stroke-width="0.75"/><rect x="539.8" y="522.63" width="4.9" height="4.9" fill="#fff" stroke="#111" stroke-width="0.75"/><rect x="549.36" y="523.91" width="4.9" height="4.9" fill="#fff" stroke="#111" stroke-width="0.75"/><rect x="558.93" y="525.33" width="4.9" height="4.9" fill="#fff" stroke="#111" stroke-width="0.75"/><rect x="568.49" y="526.18" width="4.9" height="4.9" fill="#fff" stroke="#111" stroke-width="0.75"/><rect x="578.06" y="527.25" width="4.9" height="4.9" fill="#fff" stroke="#111" stroke-width="0.75"/><rect x="587.62" y="528.17" width="4.9" height="4.9" fill="#fff" stroke="#111" stroke-width="0.75"/><rect x="597.19" y="529.02" width="4.9" height="4.9" fill="#fff" stroke="#111" stroke-width="0.75"/><rect x="606.75" y="529.73" width="4.9" height="4.9" fill="#fff" stroke="#111" stroke-width="0.75"/><rect x="616.32" y="530.23" width="4.9" height="4.9" fill="#fff" stroke="#111" stroke-width="0.75"/><rect x="625.88" y="530.73" width="4.9" height="4.9" fill="#fff" stroke="#111" stroke-width="0.75"/><rect x="635.45" y="531.15" width="4.9" height="4.9" fill="#fff" stroke="#111" stroke-width="0.75"/><rect x="645.01" y="531.51" width="4.9" height="4.9" fill="#fff" stroke="#111" stroke-width="0.75"/><rect x="654.58" y="532.22" width="4.9" height="4.9" fill="#fff" stroke="#111" stroke-width="0.75"/><rect x="664.14" y="532.08" width="4.9" height="4.9" fill="#fff" stroke="#111" stroke-width="0.75"/>
<path d="M379.65 427.98C381.24 428.28 386.03 429.78 389.21 429.82C392.4 429.87 395.59 428.99 398.78 428.26C401.97 427.53 405.16 426.09 408.34 425.42C411.53 424.74 414.72 424.09 417.91 424.21C421.1 424.33 424.29 424.83 427.47 426.13C430.66 427.43 433.85 429.3 437.04 432.03C440.23 434.75 443.41 438.03 446.6 442.47C449.79 446.91 452.98 452.73 456.17 458.66C459.36 464.59 462.54 471.89 465.73 478.06C468.92 484.22 472.11 490.83 475.3 495.67C478.48 500.51 481.67 504.17 484.86 507.11C488.05 510.04 491.24 511.61 494.43 513.29C497.61 514.97 500.8 516.06 503.99 517.19C507.18 518.33 510.37 519.28 513.56 520.11C516.74 520.94 519.93 521.54 523.12 522.17C526.31 522.79 529.5 523.28 532.68 523.87C535.87 524.46 539.06 525.2 542.25 525.72C545.44 526.24 548.63 526.55 551.81 527C555 527.45 558.19 528.04 561.38 528.42C564.57 528.8 567.76 528.95 570.94 529.27C574.13 529.59 577.32 530 580.51 530.34C583.7 530.67 586.88 530.96 590.07 531.26C593.26 531.56 596.45 531.85 599.64 532.11C602.83 532.37 606.01 532.62 609.2 532.82C612.39 533.02 615.58 533.15 618.77 533.32C621.95 533.48 625.14 533.66 628.33 533.82C631.52 533.97 634.71 534.11 637.9 534.24C641.08 534.37 644.27 534.42 647.46 534.6C650.65 534.78 653.84 535.21 657.03 535.31C660.21 535.4 665 535.19 666.59 535.17" fill="none" stroke="#f00" stroke-width="1.5499999999999998"/>
<circle cx="379.65" cy="427.98" r="2.55" fill="#fff" stroke="#f00" stroke-width="0.85"/><circle cx="389.21" cy="429.82" r="2.55" fill="#fff" stroke="#f00" stroke-width="0.85"/><circle cx="398.78" cy="428.26" r="2.55" fill="#fff" stroke="#f00" stroke-width="0.85"/><circle cx="408.34" cy="425.42" r="2.55" fill="#fff" stroke="#f00" stroke-width="0.85"/><circle cx="417.91" cy="424.21" r="2.55" fill="#fff" stroke="#f00" stroke-width="0.85"/><circle cx="427.47" cy="426.13" r="2.55" fill="#fff" stroke="#f00" stroke-width="0.85"/><circle cx="437.04" cy="432.03" r="2.55" fill="#fff" stroke="#f00" stroke-width="0.85"/><circle cx="446.6" cy="442.47" r="2.55" fill="#fff" stroke="#f00" stroke-width="0.85"/><circle cx="456.17" cy="458.66" r="2.55" fill="#fff" stroke="#f00" stroke-width="0.85"/><circle cx="465.73" cy="478.06" r="2.55" fill="#fff" stroke="#f00" stroke-width="0.85"/><circle cx="475.3" cy="495.67" r="2.55" fill="#fff" stroke="#f00" stroke-width="0.85"/><circle cx="484.86" cy="507.11" r="2.55" fill="#fff" stroke="#f00" stroke-width="0.85"/><circle cx="494.43" cy="513.29" r="2.55" fill="#fff" stroke="#f00" stroke-width="0.85"/><circle cx="503.99" cy="517.19" r="2.55" fill="#fff" stroke="#f00" stroke-width="0.85"/><circle cx="513.56" cy="520.11" r="2.55" fill="#fff" stroke="#f00" stroke-width="0.85"/><circle cx="523.12" cy="522.17" r="2.55" fill="#fff" stroke="#f00" stroke-width="0.85"/><circle cx="532.68" cy="523.87" r="2.55" fill="#fff" stroke="#f00" stroke-width="0.85"/><circle cx="542.25" cy="525.72" r="2.55" fill="#fff" stroke="#f00" stroke-width="0.85"/><circle cx="551.81" cy="527" r="2.55" fill="#fff" stroke="#f00" stroke-width="0.85"/><circle cx="561.38" cy="528.42" r="2.55" fill="#fff" stroke="#f00" stroke-width="0.85"/><circle cx="570.94" cy="529.27" r="2.55" fill="#fff" stroke="#f00" stroke-width="0.85"/><circle cx="580.51" cy="530.34" r="2.55" fill="#fff" stroke="#f00" stroke-width="0.85"/><circle cx="590.07" cy="531.26" r="2.55" fill="#fff" stroke="#f00" stroke-width="0.85"/><circle cx="599.64" cy="532.11" r="2.55" fill="#fff" stroke="#f00" stroke-width="0.85"/><circle cx="609.2" cy="532.82" r="2.55" fill="#fff" stroke="#f00" stroke-width="0.85"/><circle cx="618.77" cy="533.32" r="2.55" fill="#fff" stroke="#f00" stroke-width="0.85"/><circle cx="628.33" cy="533.82" r="2.55" fill="#fff" stroke="#f00" stroke-width="0.85"/><circle cx="637.9" cy="534.24" r="2.55" fill="#fff" stroke="#f00" stroke-width="0.85"/><circle cx="647.46" cy="534.6" r="2.55" fill="#fff" stroke="#f00" stroke-width="0.85"/><circle cx="657.03" cy="535.31" r="2.55" fill="#fff" stroke="#f00" stroke-width="0.85"/><circle cx="666.59" cy="535.17" r="2.55" fill="#fff" stroke="#f00" stroke-width="0.85"/>
</g>
<rect x="380.4" y="351.9" width="287" height="213.1" fill="none" stroke="#000" stroke-width="1.9"/>
<path d="M380.4 565 v4.7M428.23 565 v2.6M476.07 565 v4.7M523.9 565 v2.6M571.73 565 v4.7M619.57 565 v2.6M667.4 565 v4.7M380.4 565 h-4.7M380.4 529.48 h-2.6M380.4 493.97 h-4.7M380.4 458.45 h-2.6M380.4 422.93 h-4.7M380.4 387.42 h-2.6M380.4 351.9 h-4.7" stroke="#000" stroke-width="1.85" fill="none"/>
<text x="380.4" y="581.8" font-size="12.0" text-anchor="middle" class="se" transform="rotate(0.03 380.4 581.8)">300</text>
<text x="476.07" y="581.8" font-size="12.0" text-anchor="middle" class="se" transform="rotate(0.03 476.07 581.8)">400</text>
<text x="571.73" y="581.8" font-size="12.0" text-anchor="middle" class="se" transform="rotate(0.03 571.73 581.8)">500</text>
<text x="667.4" y="581.8" font-size="12.0" text-anchor="middle" class="se" transform="rotate(0.03 667.4 581.8)">600</text>
<text x="373" y="568.4" font-size="12.0" text-anchor="end" class="se" transform="rotate(0.03 373 568.4)">0.0</text>
<text x="373" y="497.37" font-size="12.0" text-anchor="end" class="se" transform="rotate(0.03 373 497.37)">0.1</text>
<text x="373" y="426.33" font-size="12.0" text-anchor="end" class="se" transform="rotate(0.03 373 426.33)">0.2</text>
<text x="373" y="355.3" font-size="12.0" text-anchor="end" class="se" transform="rotate(0.03 373 355.3)">0.3</text>
<text x="524.2" y="603.8" font-size="14.2" text-anchor="middle" class="se" transform="rotate(0.03 524.2 603.8)">Wavelength (nm)</text>
<text x="344.9" y="329.2" font-size="24" text-anchor="start" class="se" transform="rotate(0.03 344.9 329.2)">(e)</text>
<text x="575.2" y="396.5" font-size="14.1" text-anchor="start" class="se" transform="rotate(0.03 575.2 396.5)">PTC-U-4hr</text>
<path d="M539.3 409.6H571.3" stroke="#000" stroke-width="1.65"/>
<rect x="552.85" y="407.15" width="4.9" height="4.9" fill="#fff" stroke="#111" stroke-width="0.75"/>
<text x="575.2" y="414.3" font-size="14.1" text-anchor="start" class="se" transform="rotate(0.03 575.2 414.3)">before rinsing</text>
<path d="M539.3 427.2H571.3" stroke="#f00" stroke-width="1.65"/>
<circle cx="555.3" cy="427.2" r="2.55" fill="#fff" stroke="#f00" stroke-width="0.85"/>
<text x="575.2" y="431.5" font-size="14.1" text-anchor="start" class="se" transform="rotate(0.03 575.2 431.5)">after rinsing</text>
</g>
<g id="pf">
<path d="M722.6 341.6V563.2H1020.61" fill="none" stroke="#000" stroke-width="1.7" stroke-linecap="square"/>
<path d="M747.4 563.2v4.2M772.24 563.2v2.4M797.07 563.2v4.2M821.91 563.2v2.4M846.75 563.2v4.2M871.59 563.2v2.4M896.42 563.2v4.2M921.26 563.2v2.4M946.1 563.2v4.2M970.94 563.2v2.4M995.77 563.2v4.2M1020.61 563.2v2.4M722.6 563.2h-4.2M722.6 541.04h-2.4M722.6 518.88h-4.2M722.6 496.72h-2.4M722.6 474.56h-4.2M722.6 452.4h-2.4M722.6 430.24h-4.2M722.6 408.08h-2.4M722.6 385.92h-4.2M722.6 363.76h-2.4M722.6 341.6h-4.2" stroke="#000" stroke-width="1.5" fill="none"/>
<text x="747.4" y="580.2" font-size="12.0" text-anchor="middle" class="sa" transform="rotate(0.03 747.4 580.2)">0</text>
<text x="797.07" y="580.2" font-size="12.0" text-anchor="middle" class="sa" transform="rotate(0.03 797.07 580.2)">50</text>
<text x="846.75" y="580.2" font-size="12.0" text-anchor="middle" class="sa" transform="rotate(0.03 846.75 580.2)">100</text>
<text x="896.42" y="580.2" font-size="12.0" text-anchor="middle" class="sa" transform="rotate(0.03 896.42 580.2)">150</text>
<text x="946.1" y="580.2" font-size="12.0" text-anchor="middle" class="sa" transform="rotate(0.03 946.1 580.2)">200</text>
<text x="995.77" y="580.2" font-size="12.0" text-anchor="middle" class="sa" transform="rotate(0.03 995.77 580.2)">250</text>
<text x="716.1" y="566.9" font-size="12.0" text-anchor="end" class="sa" transform="rotate(0.03 716.1 566.9)">90</text>
<text x="716.1" y="522.58" font-size="12.0" text-anchor="end" class="sa" transform="rotate(0.03 716.1 522.58)">92</text>
<text x="716.1" y="478.26" font-size="12.0" text-anchor="end" class="sa" transform="rotate(0.03 716.1 478.26)">94</text>
<text x="716.1" y="433.94" font-size="12.0" text-anchor="end" class="sa" transform="rotate(0.03 716.1 433.94)">96</text>
<text x="716.1" y="389.62" font-size="12.0" text-anchor="end" class="sa" transform="rotate(0.03 716.1 389.62)">98</text>
<text x="716.1" y="345.3" font-size="12.0" text-anchor="end" class="sa" transform="rotate(0.03 716.1 345.3)">100</text>
<path d="M749.38 493.46L805.83 369.85M811.21 366.4L863.22 366.4M870.82 366.34L922.83 365.57M930.43 365.48L982.44 365.1" stroke="#111" stroke-width="0.75" fill="none"/>
<rect x="745.4" y="494.52" width="4.8" height="4.8" fill="#000"/>
<rect x="805.01" y="364" width="4.8" height="4.8" fill="#000"/>
<rect x="864.62" y="364" width="4.8" height="4.8" fill="#000"/>
<rect x="924.23" y="363.11" width="4.8" height="4.8" fill="#000"/>
<rect x="983.84" y="362.67" width="4.8" height="4.8" fill="#000"/>
<text x="871.8" y="604" font-size="14.5" text-anchor="middle" class="se" transform="rotate(0.03 871.8 604)">Time (min)</text>
<text transform="translate(687.6 460.7) rotate(-90.03)" font-size="14.8" text-anchor="middle" class="se">Absorption intensity ratio (%)</text>
<text x="685" y="329" font-size="24" text-anchor="start" class="se" transform="rotate(0.03 685 329)">(f)</text>
</g>
</g>
</svg></body></html>
